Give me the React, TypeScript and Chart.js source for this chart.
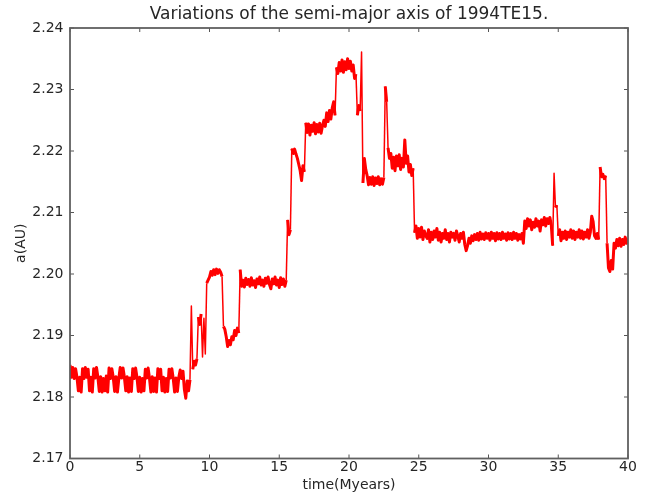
import React, { useEffect, useRef } from "react";
import { Chart, registerables } from "chart.js";

Chart.register(...registerables);

// sampling interval of the series (Myr)
const timeStep = 0.1;

// semi-major axis a (AU), t = 0.0 … 9.9 Myr
const aSeg0to10 = [
  2.1852, 2.1832, 2.1848, 2.1830, 2.1846, 2.1832, 2.1810, 2.1832, 2.1808, 2.1846,
  2.1830, 2.1848, 2.1832, 2.1845, 2.1810, 2.1832, 2.1808, 2.1846, 2.1831, 2.1848,
  2.1832, 2.1809, 2.1833, 2.1808, 2.1830, 2.1810, 2.1834, 2.1808, 2.1847, 2.1830,
  2.1846, 2.1832, 2.1809, 2.1833, 2.1808, 2.1830, 2.1848, 2.1831, 2.1847, 2.1832,
  2.1810, 2.1833, 2.1808, 2.1831, 2.1809, 2.1846, 2.1830, 2.1847, 2.1832, 2.1809,
  2.1832, 2.1808, 2.1830, 2.1810, 2.1845, 2.1831, 2.1847, 2.1830, 2.1808, 2.1833,
  2.1809, 2.1831, 2.1808, 2.1846, 2.1830, 2.1845, 2.1810, 2.1832, 2.1808, 2.1830,
  2.1809, 2.1845, 2.1831, 2.1846, 2.1830, 2.1808, 2.1831, 2.1809, 2.1832, 2.1844,
  2.1830, 2.1842, 2.1812, 2.1798, 2.1826, 2.1810, 2.1828, 2.1948, 2.1845, 2.1858,
  2.1852, 2.1862, 2.1930, 2.1918, 2.1935, 2.1865, 2.1928, 2.1870, 2.1985, 2.1990,
];

// t = 10.0 … 19.9 Myr
const aSeg10to20 = [
  2.1995, 2.2004, 2.1998, 2.2007, 2.1999, 2.2008, 2.2001, 2.2007, 2.2003, 2.1996,
  2.1915, 2.1910, 2.1898, 2.1882, 2.1892, 2.1885, 2.1898, 2.1893, 2.1908, 2.1900,
  2.1912, 2.1904, 2.2007, 2.1980, 2.1990, 2.1979, 2.1993, 2.1983, 2.1991, 2.1980,
  2.1994, 2.1982, 2.1989, 2.1978, 2.1992, 2.1984, 2.1995, 2.1982, 2.1990, 2.1980,
  2.1993, 2.1985, 2.1995, 2.1983, 2.1976, 2.1992, 2.1984, 2.1995, 2.1982, 2.1990,
  2.1978, 2.1994, 2.1983, 2.1992, 2.1980, 2.1990, 2.2088, 2.2064, 2.2072, 2.2204,
  2.2196, 2.2203, 2.2195, 2.2188, 2.2178, 2.2168, 2.2152, 2.2176, 2.2166, 2.2246,
  2.2230, 2.2244, 2.2226, 2.2242, 2.2232, 2.2246, 2.2228, 2.2243, 2.2231, 2.2245,
  2.2229, 2.2241, 2.2250, 2.2240, 2.2262, 2.2248, 2.2266, 2.2252, 2.2270, 2.2280,
  2.2258, 2.2336, 2.2326, 2.2344, 2.2330, 2.2348, 2.2328, 2.2345, 2.2332, 2.2350,
];

// t = 20.0 … 29.9 Myr
const aSeg20to30 = [
  2.2334, 2.2346, 2.2330, 2.2340, 2.2318, 2.2325, 2.2258, 2.2274, 2.2265, 2.2361,
  2.2148, 2.2188, 2.2170, 2.2160, 2.2145, 2.2157, 2.2146, 2.2158, 2.2144, 2.2156,
  2.2147, 2.2158, 2.2145, 2.2155, 2.2146, 2.2157, 2.2305, 2.2280, 2.2205, 2.2188,
  2.2196, 2.2172, 2.2190, 2.2168, 2.2192, 2.2176, 2.2194, 2.2170, 2.2188, 2.2174,
  2.2218, 2.2180, 2.2192, 2.2166, 2.2178, 2.2160, 2.2172, 2.2067, 2.2078, 2.2058,
  2.2074, 2.2060, 2.2076, 2.2056, 2.2070, 2.2062, 2.2058, 2.2072, 2.2052, 2.2068,
  2.2056, 2.2070, 2.2060, 2.2074, 2.2055, 2.2068, 2.2052, 2.2066, 2.2058, 2.2072,
  2.2056, 2.2066, 2.2052, 2.2068, 2.2060, 2.2066, 2.2055, 2.2070, 2.2062, 2.2052,
  2.2066, 2.2058, 2.2068, 2.2048, 2.2038, 2.2046, 2.2058, 2.2050, 2.2062, 2.2054,
  2.2064, 2.2056, 2.2066, 2.2055, 2.2068, 2.2057, 2.2065, 2.2056, 2.2067, 2.2058,
];

// t = 30.0 … 40.0 Myr
const aSeg30to40 = [
  2.2066, 2.2055, 2.2068, 2.2058, 2.2066, 2.2054, 2.2067, 2.2057, 2.2066, 2.2056,
  2.2068, 2.2058, 2.2065, 2.2055, 2.2067, 2.2057, 2.2066, 2.2056, 2.2068, 2.2058,
  2.2066, 2.2055, 2.2064, 2.2057, 2.2066, 2.2050, 2.2086, 2.2074, 2.2090, 2.2078,
  2.2088, 2.2072, 2.2084, 2.2076, 2.2090, 2.2078, 2.2086, 2.2070, 2.2088, 2.2080,
  2.2092, 2.2078, 2.2090, 2.2082, 2.2092, 2.2080, 2.2046, 2.2164, 2.2108, 2.2112,
  2.2062, 2.2072, 2.2054, 2.2068, 2.2058, 2.2070, 2.2056, 2.2068, 2.2060, 2.2072,
  2.2058, 2.2070, 2.2056, 2.2068, 2.2060, 2.2072, 2.2058, 2.2070, 2.2057, 2.2068,
  2.2060, 2.2072, 2.2058, 2.2068, 2.2094, 2.2085, 2.2062, 2.2058, 2.2066, 2.2056,
  2.2174, 2.2158, 2.2162, 2.2155, 2.2160, 2.2050, 2.2010, 2.2004, 2.2022, 2.2008,
  2.2050, 2.2042, 2.2056, 2.2046, 2.2058, 2.2045, 2.2056, 2.2048, 2.2060, 2.2050,
  2.2058,
];

const xMin = 0;
const xMax = 40;
const xStep = 5;
const yMin = 2.17;
const yMax = 2.24;
const yStep = 0.01;

const titleText = "Variations of the semi-major axis of 1994TE15.";
const xTitle = "time(Myears)";
const yTitle = "a(AU)";

const FONT = "'DejaVu Sans', 'Liberation Sans', sans-serif";
const TEXT = "#262626";

export default function App() {
  const ref = useRef<HTMLCanvasElement>(null);

  useEffect(() => {
    if (!ref.current) return;
    const values = [...aSeg0to10, ...aSeg10to20, ...aSeg20to30, ...aSeg30to40];
    const points = values.map((v, i) => ({ x: Math.round(i * timeStep * 10) / 10, y: v }));

    const framePlugin = {
      id: "mplFrame",
      afterDatasetsDraw(chart: any) {
        const { ctx, chartArea } = chart;
        const { left, right, top, bottom } = chartArea;
        const xs = chart.scales.x;
        const ys = chart.scales.y;
        ctx.save();
        ctx.strokeStyle = "#555555";
        ctx.lineWidth = 1;
        const tl = 4;
        xs.ticks.forEach((t: any) => {
          const px = xs.getPixelForValue(t.value);
          ctx.beginPath();
          ctx.moveTo(px, bottom);
          ctx.lineTo(px, bottom - tl);
          ctx.moveTo(px, top);
          ctx.lineTo(px, top + tl);
          ctx.stroke();
        });
        ys.ticks.forEach((t: any) => {
          const py = ys.getPixelForValue(t.value);
          ctx.beginPath();
          ctx.moveTo(left, py);
          ctx.lineTo(left + tl, py);
          ctx.moveTo(right, py);
          ctx.lineTo(right - tl, py);
          ctx.stroke();
        });
        ctx.lineWidth = 1.8;
        ctx.strokeStyle = "#606060";
        ctx.strokeRect(left, top, right - left, bottom - top);
        ctx.restore();
      },
    };

    const chart = new Chart(ref.current, {
      type: "line",
      data: {
        datasets: [
          {
            data: points,
            borderColor: "#ff0000",
            borderWidth: 3,
            borderJoinStyle: "round",
            pointRadius: 0,
            tension: 0,
            fill: false,
            segment: {
              borderWidth: (c: any) =>
                Math.abs(c.p1.parsed.y - c.p0.parsed.y) > 0.0045 ? 1.5 : 3,
            },
          },
        ],
      },
      options: {
        responsive: false,
        animation: false,
        layout: { padding: { left: 0, right: 18, top: 0, bottom: 0 } },
        plugins: {
          legend: { display: false },
          tooltip: { enabled: false },
          title: {
            display: true,
            fullSize: false,
            text: titleText,
            color: TEXT,
            font: { family: FONT, size: 17, weight: "normal", lineHeight: 1.2 },
            padding: { top: 4.8, bottom: 2.8 },
          },
        },
        scales: {
          x: {
            type: "linear",
            min: xMin,
            max: xMax,
            grid: { display: false, drawTicks: false },
            border: { display: false },
            ticks: {
              stepSize: xStep,
              padding: 0.5,
              color: TEXT,
              font: { family: FONT, size: 14 },
              maxRotation: 0,
            },
            title: {
              display: true,
              text: xTitle,
              color: TEXT,
              font: { family: FONT, size: 14 },
              padding: { top: 0, bottom: 1.6 },
            },
            afterFit: (scale: any) => {
              scale.height = 36.5;
            },
          },
          y: {
            type: "linear",
            min: yMin,
            max: yMax,
            grid: { display: false, drawTicks: false },
            border: { display: false },
            ticks: {
              stepSize: yStep,
              padding: 6.5,
              color: TEXT,
              font: { family: FONT, size: 14 },
              callback: (v: any) => Number(v).toFixed(2),
            },
            title: {
              display: true,
              text: yTitle,
              color: TEXT,
              font: { family: FONT, size: 14 },
              padding: { top: 12.6, bottom: 0 },
            },
            afterFit: (scale: any) => {
              scale.width = 70;
            },
          },
        },
      },
      plugins: [framePlugin],
    });

    return () => chart.destroy();
  }, []);

  return (
    <div style={{ position: "absolute", left: 0, top: 0, width: 646, height: 495, background: "#ffffff" }}>
      <canvas ref={ref} width={646} height={495} style={{ display: "block" }} />
    </div>
  );
}
